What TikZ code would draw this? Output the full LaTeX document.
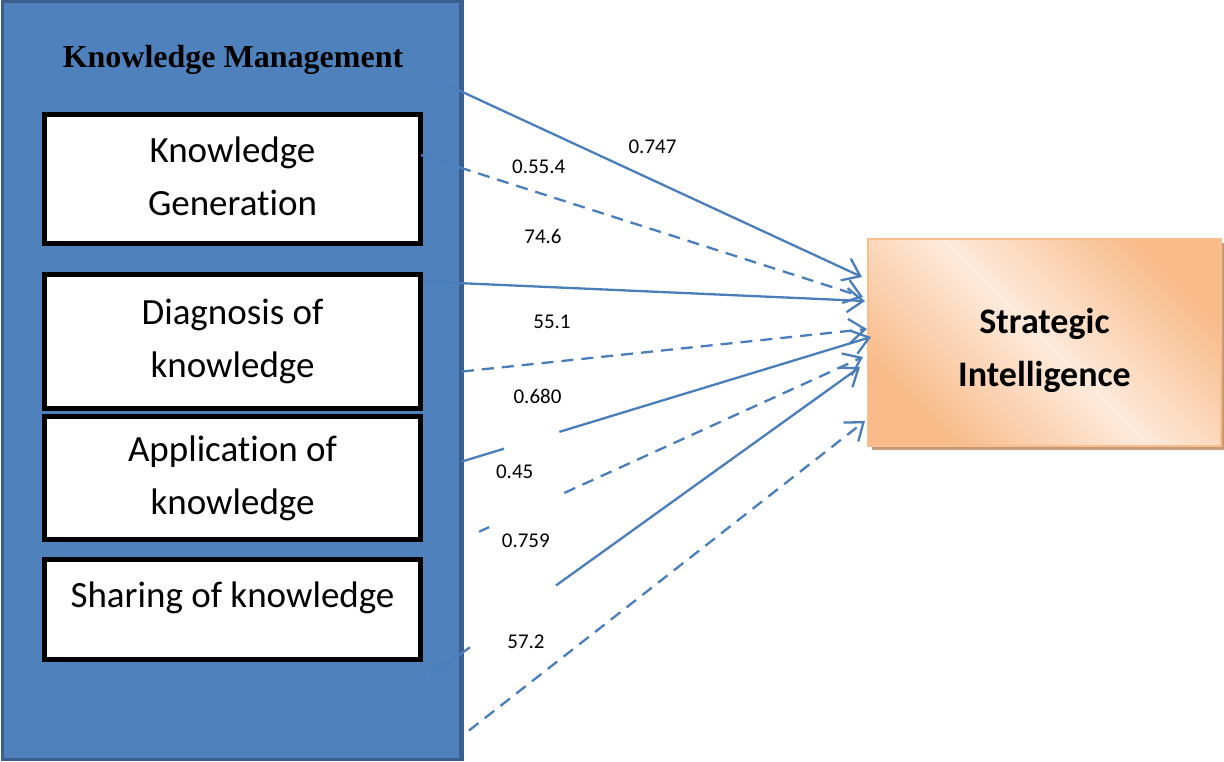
\documentclass[tikz,border=0pt]{standalone}
\usepackage{fontspec}
\setmainfont{Carlito}[RawFeature=-liga]
\newfontfamily\serifttl{Liberation Serif}
\usetikzlibrary{arrows.meta,calc,shadows}
\definecolor{kmblue}{HTML}{4F81BD}
\definecolor{kmborder}{HTML}{3A5F8C}
\definecolor{arrowblue}{HTML}{4A7EBB}
\definecolor{sidark}{HTML}{F8BA88}
\definecolor{silight}{HTML}{FDEADB}
\definecolor{siborder}{HTML}{F9BE8E}
\definecolor{sishadow}{HTML}{C49A78}
\begin{document}
\begin{tikzpicture}[x=1pt,y=-1pt,
  conn/.style={draw=arrowblue,line width=2.3pt},
  tip/.style={-{Straight Barb[length=16pt,width=24pt]}},
  dashline/.style={dash pattern=on 12pt off 8pt},
  kbox/.style={draw=black,line width=5pt,fill=white,minimum width=376pt,inner sep=0pt,
    align=center,font=\fontsize{37}{53}\selectfont},
  val/.style={font=\fontsize{21}{25}\selectfont,inner sep=1pt}]
\useasboundingbox (0,0) rectangle (1224,762);
% outer blue container
\node[draw=kmborder,line width=3pt,fill=kmblue,minimum width=458pt,minimum height=757pt,inner sep=0pt]
  (km) at (231.5,380.5) {};
\draw[kmborder,line width=4pt] (km.north east) -- (km.south east);
\node[font=\serifttl\bfseries\fontsize{32}{36}\selectfont,anchor=base] (kmt) at (233,68) {Knowledge Management};
% inner boxes
\node[kbox,minimum height=129pt,text depth=6pt] (kg) at (232.5,179) {Knowledge\\Generation};
\node[kbox,minimum height=134pt] (dk) at (232.5,341.5) {Diagnosis of\\knowledge};
\node[kbox,minimum height=123pt] (ak) at (232.5,478) {Application of\\knowledge};
\node[kbox,minimum height=100pt,text height=26pt,text depth=31pt] (sk) at (232.5,609.5) {Sharing of knowledge};
% target box
\node[draw=siborder,line width=2pt,top color=sidark,bottom color=sidark,middle color=silight,
  shading angle=-45,minimum width=353pt,minimum height=207pt,inner sep=0pt,
  drop shadow={shadow xshift=4pt,shadow yshift=-4pt,fill=sishadow,opacity=1},
  align=center,font=\bfseries\fontsize{36}{53}\selectfont] (si) at (1044.5,342.5)
  {\rule{0pt}{41pt}Strategic\\Intelligence};
% connector start points
\coordinate (s1) at (443,83);
\coordinate (s2) at ($(kg.east)+(-2,-24)$);
\coordinate (s3) at ($(dk.east)+(0,-60)$);
\coordinate (s4) at ($(km.east)+(0,-9)$);
\coordinate (s5) at ($(km.east)+(0,81)$);
\coordinate (s6) at ($(km.east)+(0,159)$);
\coordinate (s7) at (430,676);
\coordinate (s8) at ($(km.south east)+(7,-30)$);
% connector end points on the target box
\coordinate (e1) at ($(si.north west)+(-5,39)$);
\coordinate (e2) at ($(si.north west)+(-4,59)$);
\coordinate (e3) at ($(si.north west)+(-2,63)$);
\coordinate (e4) at ($(si.north west)+(0,91)$);
\coordinate (e5) at ($(si.north west)+(4,99)$);
\coordinate (e6) at ($(si.north west)+(-4,119)$);
\coordinate (e7) at ($(si.north west)+(-7,129)$);
\coordinate (e8) at ($(si.north west)+(-2,183)$);
% connectors
\draw[conn,tip] (s1) -- (e1);
\draw[conn,dashline,tip] (s2) -- (e2);
\draw[conn,tip] (s3) -- (e3);
\draw[conn,dashline,tip] (s4) -- (e4);
\draw[conn] (s5) -- ($(s5)!0.103!(e5)$);
\draw[conn,tip] ($(s5)!0.238!(e5)$) -- (e5);
\draw[conn] ($(s6)!0.0425!(e6)$) -- ($(s6)!0.0675!(e6)$);
\draw[conn,dashline,tip] ($(s6)!0.255!(e6)$) -- (e6);
\draw[conn] (s7) -- ($(s7)!0.093!(e7)$);
\draw[conn,tip] ($(s7)!0.293!(e7)$) -- (e7);
\draw[conn,dashline,tip] (s8) -- (e8);
% values
\node[val] (v1) at (652.5,146.7) {0.747};
\node[val] (v2) at (538.7,167) {0.55.4};
\node[val] (v3) at (543,236.7) {74.6};
\node[val] (v4) at (552,321.7) {55.1};
\node[val] (v5) at (537.5,396.7) {0.680};
\node[val] (v6) at (514.7,471.7) {0.45};
\node[val] (v7) at (525.8,540.7) {0.759};
\node[val] (v8) at (526,641.7) {57.2};
\end{tikzpicture}
\end{document}
